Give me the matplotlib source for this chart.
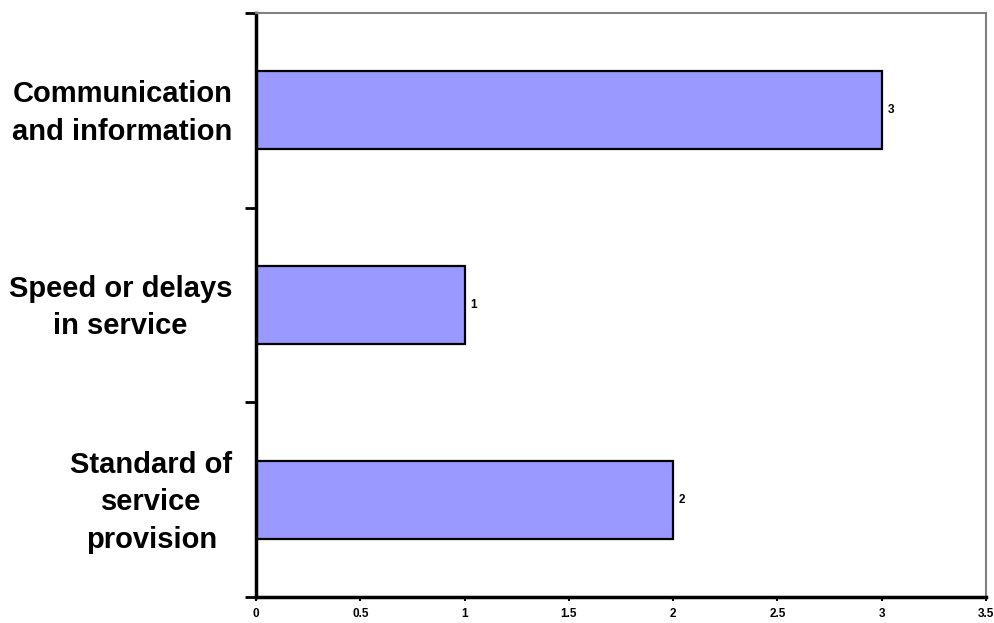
import matplotlib
matplotlib.use("Agg")
import matplotlib.pyplot as plt
import matplotlib.transforms as mtransforms
import numpy as np

categories = ["Standard of\nservice\nprovision",
              "Speed or delays\nin service",
              "Communication\nand information"]
values = [2, 1, 3]
xticks = [0, 0.5, 1, 1.5, 2, 2.5, 3, 3.5]
xtick_labels = ["0", "0.5", "1", "1.5", "2", "2.5", "3", "3.5"]

plt.rcParams['font.family'] = ['Liberation Sans', 'DejaVu Sans']

fig = plt.figure(figsize=(9.94, 6.23), dpi=100)
ax = fig.add_axes([256/994, 1 - 597/623, (986 - 256)/994, (597 - 13)/623])

ypos = np.arange(len(categories))
ax.barh(ypos, values, height=0.4, color='#9999FF', edgecolor='black', linewidth=1.6, zorder=2)

for y, v in zip(ypos, values):
    ax.annotate(str(v), xy=(v, y), xytext=(4, 0), textcoords='offset points',
                ha='left', va='center', fontsize=8.5, fontweight='bold')

ax.set_xlim(0, 3.5)
ax.set_ylim(-0.5, 2.5)

ax.set_xticks(xticks)
ax.set_xticklabels(xtick_labels, fontsize=8.5, fontweight='bold')
ax.tick_params(axis='x', direction='out', length=3, width=1.5, pad=5)

ax.set_yticks(ypos)
ax.set_yticklabels(categories, fontsize=21, fontweight='bold', multialignment='center',
                   linespacing=1.42)
ax.tick_params(axis='y', which='major', length=0, pad=17)
ax.set_yticks([-0.5, 0.5, 1.5, 2.5], minor=True)
ax.tick_params(axis='y', which='minor', direction='out', length=8, width=2)

# nudge the category labels up so they sit centred on the bars
shift = mtransforms.ScaledTranslation(0, 5/100, fig.dpi_scale_trans)
for lbl in ax.get_yticklabels():
    lbl.set_transform(lbl.get_transform() + shift)

for side in ('left', 'bottom'):
    ax.spines[side].set_linewidth(2.5)
    ax.spines[side].set_color('black')
for side in ('top', 'right'):
    ax.spines[side].set_linewidth(1.5)
    ax.spines[side].set_color('#808080')

fig.savefig("out.png", dpi=100)
